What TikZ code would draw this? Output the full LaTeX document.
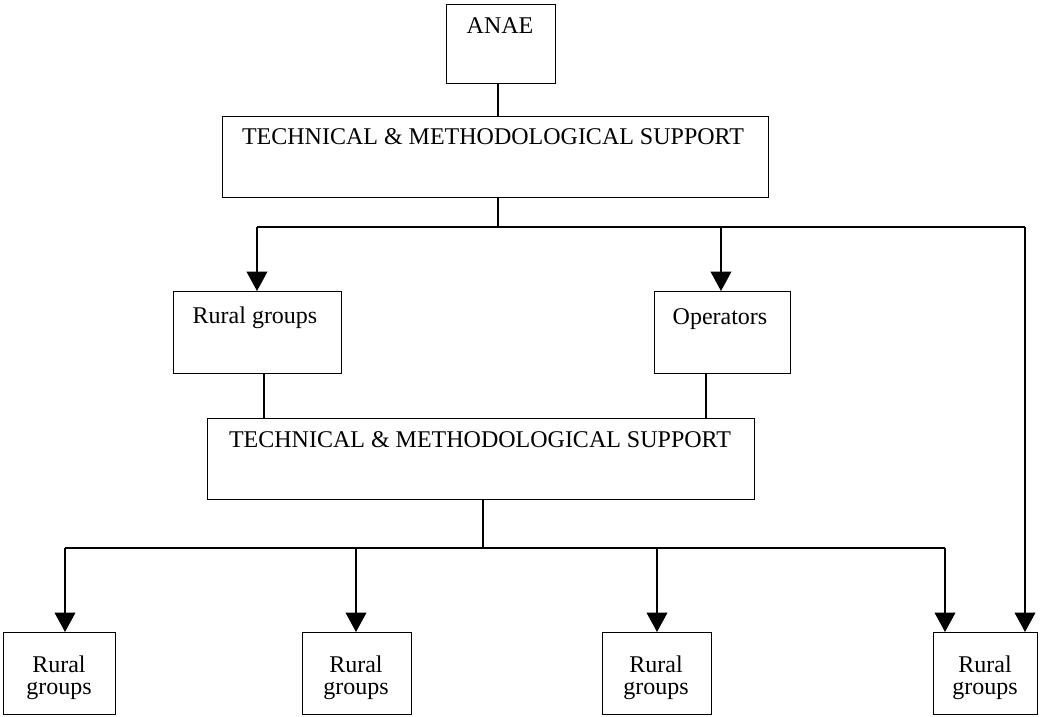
\documentclass[tikz,border=0pt]{standalone}
\usepackage{fontspec}
\setmainfont{Liberation Serif}
\usetikzlibrary{arrows.meta}
\begin{document}
\begin{tikzpicture}[x=0.75pt,y=-0.75pt,
  box/.style={draw, line width=1.1pt, inner sep=0pt, anchor=north west},
  lbl/.style={inner sep=0pt, anchor=base, font=\fontsize{18}{16.5}\selectfont},
  lbl2/.style={inner sep=0pt, anchor=center, align=center, font=\fontsize{18}{16.5}\selectfont},
  conn/.style={line width=1.1pt},
  arr/.style={conn, -{Triangle[width=15.5pt,length=14.5pt]}}]
\useasboundingbox (0,0) rectangle (1040,717);
% boxes
\node[box, minimum width=81.75pt, minimum height=59.25pt] (anae) at (446,4) {};
\node[lbl] (anaet) at (500,34) {ANAE};
\node[box, minimum width=409.5pt, minimum height=60.75pt] (tms1) at (222,116) {};
\node[lbl] (tms1t) at (493,145) {TECHNICAL \& METHODOLOGICAL SUPPORT};
\node[box, minimum width=126pt, minimum height=61.5pt] (rg) at (173,291) {};
\node[lbl] (rgt) at (255,323) {Rural groups};
\node[box, minimum width=102pt, minimum height=61.5pt] (op) at (654,291) {};
\node[lbl] (opt) at (720,324) {Operators};
\node[box, minimum width=410.25pt, minimum height=60.75pt] (tms2) at (207,418) {};
\node[lbl] (tms2t) at (480,447) {TECHNICAL \& METHODOLOGICAL SUPPORT};
\node[box, minimum width=84pt, minimum height=61.5pt] (b1) at (3,632) {};
\node[lbl2] (b1t) at (59,678) {Rural\\groups};
\node[box, minimum width=81.75pt, minimum height=61.5pt] (b2) at (302,632) {};
\node[lbl2] (b2t) at (356,678) {Rural\\groups};
\node[box, minimum width=81.75pt, minimum height=61.5pt] (b3) at (602,632) {};
\node[lbl2] (b3t) at (656,678) {Rural\\groups};
\node[box, minimum width=78pt, minimum height=61.5pt] (b4) at (933,632) {};
\node[lbl2] (b4t) at (985,678) {Rural\\groups};
% bus coordinates
\coordinate (t1) at (498,227);
\coordinate (ha) at (257,227);
\coordinate (hb) at (721,227);
\coordinate (hc) at (1025,227);
\coordinate (rgl) at (264,373);
\coordinate (opl) at (706,373);
\coordinate (t2) at (483,548);
\coordinate (h1) at (65,548);
\coordinate (h2) at (356,548);
\coordinate (h3) at (657,548);
\coordinate (h4) at (945,548);
% connectors
\draw[conn] (anae.south -| t1) -- (tms1.north -| t1);
\draw[conn] (tms1.south -| t1) -- (t1);
\draw[conn] (ha) -- (hc);
\draw[arr] (ha) -- (rg.north -| ha);
\draw[arr] (hb) -- (op.north -| hb);
\draw[arr] (hc) -- (b4.north -| hc);
\draw[conn] (rgl) -- (tms2.north -| rgl);
\draw[conn] (opl) -- (tms2.north -| opl);
\draw[conn] (tms2.south -| t2) -- (t2);
\draw[conn] (h1) -- (h4);
\draw[arr] (h1) -- (b1.north -| h1);
\draw[arr] (h2) -- (b2.north -| h2);
\draw[arr] (h3) -- (b3.north -| h3);
\draw[arr] (h4) -- (b4.north -| h4);
\end{tikzpicture}
\end{document}
